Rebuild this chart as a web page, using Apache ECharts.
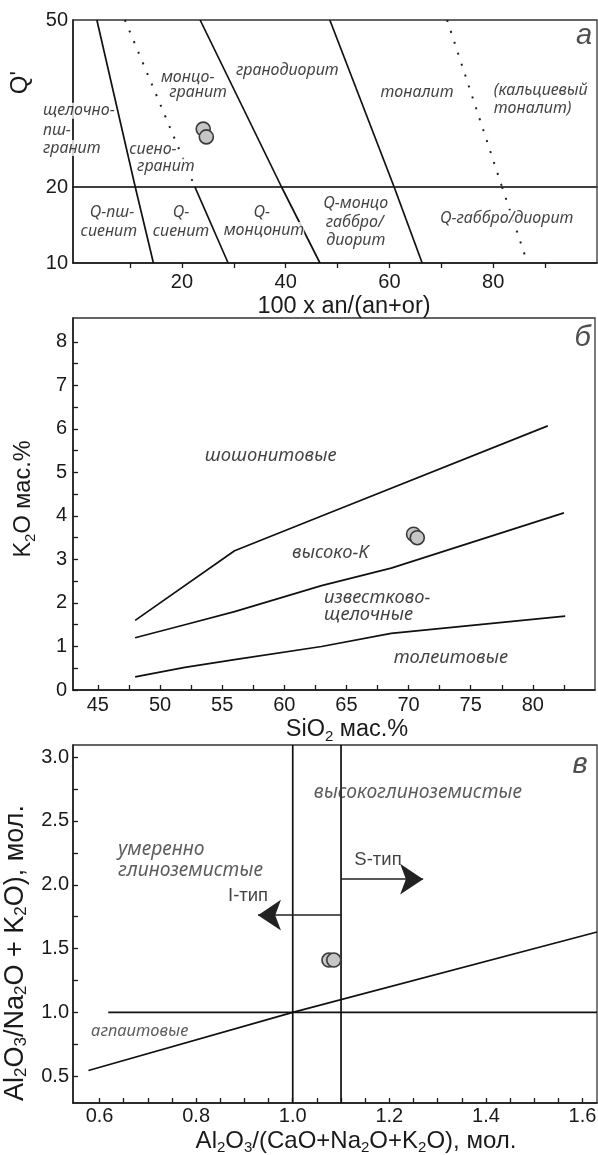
<!DOCTYPE html>
<html><head><meta charset="utf-8">
<script src="https://cdn.jsdelivr.net/npm/echarts@6/dist/echarts.min.js"></script>
<style>html,body{margin:0;padding:0;background:#fff}#c{width:598px;height:1155px}</style>
</head><body><div id="c"></div><script>
// ---------- Panel а: Q' vs 100*an/(an+or) ----------
const aXLabels = [20, 40, 60, 80];
const aXTicks = [10, 20, 30, 40, 50, 60, 70, 80, 90];
const aYLabelsUpper = [50];
const aYLabelsLower = [10, 20];
const aSolidUpper = [
  [[3.6, 50], [11.0, 20]],
  [[23.5, 50], [39.2, 20]],
  [[48.5, 50], [60.9, 20]]
];
const aSolidLower = [
  [[11.0, 20], [14.5, 10]],
  [[22.5, 20], [28.9, 10]],
  [[39.2, 20], [46.6, 10]],
  [[60.9, 20], [66.3, 10]]
];
const aDottedUpper = [
  [[9.0, 50], [22.5, 20]],
  [[71.1, 50], [81.7, 20]]
];
const aDottedLower = [
  [[81.7, 20], [86.6, 10]]
];
const aSamples = [[24.1, 30.4], [24.7, 29.0]];
const aTextUpper = [
  ['монцо-', 21.1, 39.75, 'center'],
  ['гранит', 23.1, 36.9, 'center'],
  ['гранодиорит', 40.3, 41.0, 'center'],
  ['тоналит', 65.3, 36.9, 'center'],
  ['(кальциевый', 80.1, 37.4, 'left'],
  ['тоналит)', 80.1, 34.2, 'left'],
  ['щелочно-', -6.8, 33.7, 'left'],
  ['пш-', -6.8, 30.2, 'left'],
  ['гранит', -6.8, 27.0, 'left'],
  ['сиено-', 14.4, 26.8, 'center'],
  ['гранит', 16.9, 23.7, 'center']
];
const aTextLower = [
  ['Q-пш-', 6.5, 16.6, 'center'],
  ['сиенит', 5.9, 14.2, 'center'],
  ['Q-', 19.8, 16.6, 'center'],
  ['сиенит', 19.8, 14.2, 'center'],
  ['Q-', 35.4, 16.7, 'center'],
  ['монцонит', 35.8, 14.35, 'center'],
  ['Q-монцо', 53.5, 17.9, 'center'],
  ['габбро/', 53.3, 15.3, 'center'],
  ['диорит', 53.5, 12.95, 'center'],
  ['Q-габбро/диорит', 82.6, 15.9, 'center']
];
const aLetter = ['а', 97.5, 47.1];

// ---------- Panel б: K2O vs SiO2 ----------
const bXLabels = [45, 50, 55, 60, 65, 70, 75, 80];
const bXTicks = [45, 47.5, 50, 52.5, 55, 57.5, 60, 62.5, 65, 67.5, 70, 72.5, 75, 77.5, 80, 82.5];
const bYLabels = [0, 1, 2, 3, 4, 5, 6, 7, 8];
const bYTicks = [0, 0.5, 1, 1.5, 2, 2.5, 3, 3.5, 4, 4.5, 5, 5.5, 6, 6.5, 7, 7.5, 8];
const bShoshonite = [[48, 1.6], [56, 3.2], [63, 4.0], [81.2, 6.07]];
const bHighK = [[48, 1.2], [52, 1.5], [56, 1.8], [63, 2.4], [68.6, 2.8], [82.5, 4.07]];
const bTholeiite = [[48, 0.3], [52, 0.52], [56, 0.7], [63, 1.0], [68.6, 1.3], [82.6, 1.7]];
const bSamples = [[70.4, 3.58], [70.7, 3.5]];
const bText = [
  ['шошонитовые', 58.9, 5.39, 'center'],
  ['высоко-K', 63.7, 3.15, 'center'],
  ['известково-', 63.2, 2.12, 'left'],
  ['щелочные', 63.2, 1.73, 'left'],
  ['толеитовые', 73.4, 0.74, 'center']
];
const bLetter = ['б', 84.0, 8.1];

// ---------- Panel в: A/NK vs A/CNK ----------
const cXLabels = [0.6, 0.8, 1.0, 1.2, 1.4, 1.6];
const cXTicks = [0.6, 0.65, 0.7, 0.75, 0.8, 0.85, 0.9, 0.95, 1.0, 1.05, 1.1, 1.15, 1.2, 1.25, 1.3, 1.35, 1.4, 1.45, 1.5, 1.55, 1.6];
const cYLabels = [0.5, 1.0, 1.5, 2.0, 2.5, 3.0];
const cYTicks = [0.5, 0.75, 1.0, 1.25, 1.5, 1.75, 2.0, 2.25, 2.5, 2.75, 3.0];
const cLines = [
  [[1.0, 0.29], [1.0, 3.095]],
  [[1.1, 0.29], [1.1, 3.095]],
  [[0.618, 1.0], [1.63, 1.0]],
  [[0.577, 0.545], [1.0, 1.0], [1.63, 1.63]]
];
const cArrows = [
  [[1.1, 1.762], [0.928, 1.762]],
  [[1.1, 2.044], [1.27, 2.044]]
];
const cSamples = [[1.075, 1.41], [1.085, 1.41]];
const cText = [
  ['высокоглиноземистые', 1.259, 2.726, 'center', 'it'],
  ['умеренно', 0.638, 2.279, 'left', 'it'],
  ['глиноземистые', 0.638, 2.114, 'left', 'it'],
  ['I-тип', 0.9075, 1.911, 'center', 'up'],
  ['S-тип', 1.1766, 2.193, 'center', 'up'],
  ['агпаитовые', 0.683, 0.853, 'center', 'small']
];
const cLetter = ['в', 1.595, 2.937];

// ---------- styling helpers ----------
const SANS = 'Liberation Sans';
const IT = 'Noto Sans';
const INK = '#1a1a1a';
function subRich(fs) {
  return { s: { fontSize: Math.round(fs * 0.64), lineHeight: 10, verticalAlign: 'bottom', fontFamily: SANS, color: INK } };
}
function nameStyle(extra) {
  const fs = (extra && extra.fontSize) || 23.5;
  return Object.assign({ fontFamily: SANS, fontSize: fs, lineHeight: 28, color: INK, rich: subRich(fs) }, extra || {});
}
function fmt(d) { return function (v) { return d ? Number(v).toFixed(d) : String(v); }; }

function xAxisDef(gi, min, max, labels, ticks, opts) {
  return Object.assign({
    type: 'value', gridIndex: gi, min: min, max: max,
    axisLine: { show: true, onZero: false, lineStyle: { color: INK, width: 1.5 } },
    axisTick: { show: true, customValues: ticks, inside: opts.inside, length: 5, lineStyle: { color: INK, width: 1.3 } },
    axisLabel: { show: true, customValues: labels, formatter: fmt(opts.dec), margin: opts.margin, fontFamily: SANS, fontSize: 20, color: INK },
    splitLine: { show: false }
  }, opts.extra || {});
}
function yAxisDef(gi, min, max, labels, ticks, opts) {
  return Object.assign({
    type: 'value', gridIndex: gi, min: min, max: max,
    axisLine: { show: true, onZero: false, lineStyle: { color: INK, width: 1.5 } },
    axisTick: ticks ? { show: true, customValues: ticks, inside: true, length: 5, lineStyle: { color: INK, width: 1.3 } } : { show: false },
    axisLabel: { show: true, customValues: labels, formatter: fmt(opts.dec), margin: opts.margin, fontFamily: SANS, fontSize: 20, color: INK },
    splitLine: { show: false }
  }, opts.extra || {});
}

const series = [];
function addLine(gi, pts, dotted) {
  series.push({
    type: 'line', xAxisIndex: gi, yAxisIndex: gi, data: pts, showSymbol: false, symbol: 'none',
    silent: true, animation: false, z: 3,
    lineStyle: dotted ? { color: '#222', width: 2, type: [2, 9.5] } : { color: '#111', width: 1.7 }
  });
}
function addPoints(gi, pts) {
  series.push({
    type: 'scatter', xAxisIndex: gi, yAxisIndex: gi, data: pts, symbolSize: 14, silent: true, animation: false, z: 6,
    itemStyle: { color: '#c6c6c6', borderColor: '#3a3a3a', borderWidth: 1.6, opacity: 1 }
  });
}
function addText(gi, items, base) {
  series.push({
    type: 'scatter', xAxisIndex: gi, yAxisIndex: gi, clip: false, symbolSize: 0, silent: true, animation: false, z: 5,
    data: items.map(function (t) {
      const st = t[4] || 'it';
      const lab = { align: t[3] };
      if (st === 'up') { lab.fontStyle = 'normal'; lab.fontFamily = SANS; lab.fontSize = 18.5; lab.color = '#111'; }
      if (st === 'small') { lab.fontSize = 16.5; }
      return { name: t[0], value: [t[1], t[2]], label: lab };
    }),
    label: Object.assign({
      show: true, position: 'inside', formatter: '{b}', color: '#111',
      fontFamily: IT, fontStyle: 'italic', fontSize: 16, backgroundColor: '#fff'
    }, base || {})
  });
}
function addLetter(gi, l) {
  series.push({
    type: 'scatter', xAxisIndex: gi, yAxisIndex: gi, clip: false, symbolSize: 0, silent: true, animation: false, z: 5,
    data: [{ name: l[0], value: [l[1], l[2]] }],
    label: { show: true, position: 'inside', formatter: '{b}', color: '#222', fontFamily: SANS, fontStyle: 'italic', fontSize: 29 }
  });
}

// panel а
aSolidUpper.forEach(function (p) { addLine(0, p, false); });
aDottedUpper.forEach(function (p) { addLine(0, p, true); });
aSolidLower.forEach(function (p) { addLine(1, p, false); });
aDottedLower.forEach(function (p) { addLine(1, p, true); });
addText(0, aTextUpper);
addText(1, aTextLower);
addPoints(0, aSamples);
addLetter(0, aLetter);
// panel б
[bShoshonite, bHighK, bTholeiite].forEach(function (p) { addLine(2, p, false); });
addText(2, bText, { fontSize: 18.4, backgroundColor: 'transparent' });
addPoints(2, bSamples);
addLetter(2, bLetter);
// panel в
cLines.forEach(function (p) { addLine(3, p, false); });
series.push({
  type: 'lines', coordinateSystem: 'cartesian2d', xAxisIndex: 3, yAxisIndex: 3, silent: true, animation: false, z: 4,
  symbol: ['none', 'arrow'], symbolSize: [15, 23],
  lineStyle: { color: '#222', width: 1.5, opacity: 1, curveness: 0 },
  data: cArrows.map(function (a) { return { coords: a }; })
});
addText(3, cText, { fontSize: 19.3, color: '#333', backgroundColor: 'transparent' });
addPoints(3, cSamples);
addLetter(3, cLetter);

const gridBase = { show: true, borderColor: '#333', borderWidth: 1.3, backgroundColor: 'transparent', containLabel: false, outerBoundsMode: 'none' };
const option = {
  animation: false,
  backgroundColor: '#fff',
  grid: [
    Object.assign({ left: 73, top: 20, width: 524, height: 167 }, gridBase),
    Object.assign({ left: 73, top: 187, width: 524, height: 76 }, gridBase),
    Object.assign({ left: 73, top: 318, width: 522, height: 372 }, gridBase),
    Object.assign({ left: 73, top: 745, width: 524, height: 358 }, gridBase)
  ],
  xAxis: [
    { type: 'value', gridIndex: 0, min: -1, max: 100, show: false },
    xAxisDef(1, -1, 100, aXLabels, aXTicks, { inside: false, margin: 9, extra: {
      name: '100 x an/(an+or)', nameLocation: 'middle', nameGap: 25, nameTextStyle: nameStyle({ padding: [0, 0, 0, 18] }) } }),
    xAxisDef(2, 43, 85, bXLabels, bXTicks, { inside: true, margin: 5, extra: {
      name: 'SiO{s|2} мас.%', nameLocation: 'middle', nameGap: 20, nameTextStyle: nameStyle({ padding: [0, 0, 0, 26] }) } }),
    xAxisDef(3, 0.545, 1.63, cXLabels, cXTicks, { inside: true, margin: 3, dec: 1, extra: {
      name: 'Al{s|2}O{s|3}/(CaO+Na{s|2}O+K{s|2}O), мол.', nameLocation: 'middle', nameGap: 17, nameTextStyle: nameStyle({ fontSize: 24, padding: [0, 0, 0, 42] }) } })
  ],
  yAxis: [
    yAxisDef(0, 20, 50, aYLabelsUpper, null, { margin: 5, extra: {
      name: "Q'", nameLocation: 'middle', nameRotate: 90, nameGap: 36, nameTextStyle: nameStyle({ fontSize: 24, padding: [0, 0, 0, 42] }) } }),
    yAxisDef(1, 10, 20, aYLabelsLower, null, { margin: 5 }),
    yAxisDef(2, 0, 8.55, bYLabels, bYTicks, { margin: 6, extra: {
      name: 'K{s|2}O мас.%', nameLocation: 'middle', nameRotate: 90, nameGap: 35, nameTextStyle: nameStyle({ padding: [0, 0, 0, 10] }) } }),
    yAxisDef(3, 0.29, 3.095, cYLabels, cYTicks, { margin: 4, dec: 1, extra: {
      name: 'Al{s|2}O{s|3}/Na{s|2}O + K{s|2}O), мол.', nameLocation: 'middle', nameRotate: 90, nameGap: 33, nameTextStyle: nameStyle({ fontSize: 27, lineHeight: 30, padding: [0, 58, 0, 0] }) } })
  ],
  series: series
};
const chart = echarts.init(document.getElementById('c'), null, { renderer: 'canvas' });
chart.setOption(option);
</script></body></html>
